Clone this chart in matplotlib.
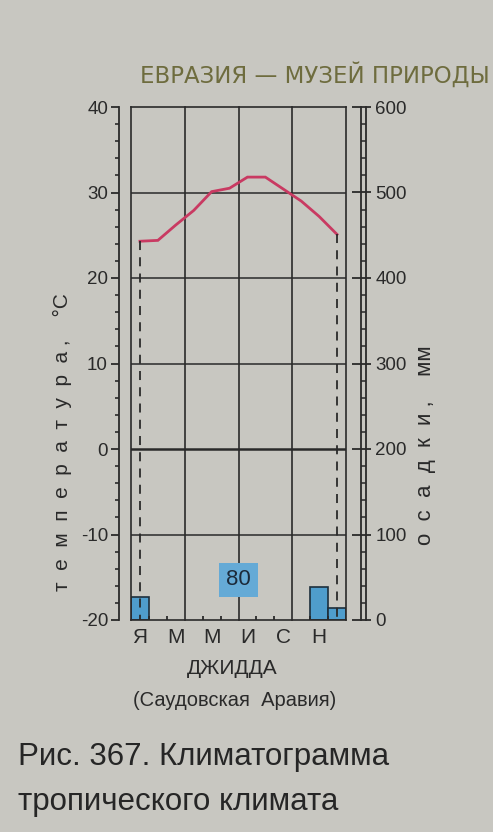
import numpy as np
import matplotlib
matplotlib.use("Agg")
import matplotlib.pyplot as plt
from matplotlib.ticker import MultipleLocator, FixedLocator

# data (Jeddah)
month_pos = np.arange(12) + 0.5
month_label_pos = [0.5, 2.5, 4.5, 6.5, 8.5, 10.5]
month_labels = ["Я", "М", "М", "И", "С", "Н"]
temp = [24.3, 24.4, 26.2, 27.9, 30.1, 30.5, 31.8, 31.8, 30.4, 29.0, 27.2, 25.1]
precip_pos = [0.5, 10.5, 11.5]
precip = [27, 39, 14]
precip_total = 80
temp_ticks = [-20, -10, 0, 10, 20, 30, 40]
precip_ticks = [0, 100, 200, 300, 400, 500, 600]

W, H = 493, 832
paper = "#c8c7c1"
ink = "#2a2a2a"
plt.rcParams["font.family"] = ["Liberation Sans", "DejaVu Sans"]
plt.rcParams["axes.unicode_minus"] = False

fig = plt.figure(figsize=(W / 100, H / 100), dpi=100)
fig.patch.set_facecolor(paper)

def fx(px):
    return px / W

def fy(py):
    return 1 - py / H

PT = 0.72  # points per pixel at dpi 100

left, right, top, bottom = 131, 346, 107, 620
ax = fig.add_axes([fx(left), fy(bottom), fx(right - left), (bottom - top) / H])
ax2 = ax.twinx()
ax3 = ax.twinx()
ax.set_zorder(ax2.get_zorder() + 2)
ax.patch.set_visible(False)

ax.set_xlim(0, 12)
ax.set_ylim(-20, 40)
ax2.set_ylim(0, 600)
ax3.set_ylim(0, 600)

# precipitation bars
ax2.bar(precip_pos, precip, width=1, color="#4f9dcc", edgecolor="#1d2f3c", linewidth=1.2)

# grid
for t in [-10, 10, 20, 30]:
    ax.axhline(t, color=ink, lw=1.1)
ax.axhline(0, color=ink, lw=1.8)
for m in [0, 3, 6, 9]:
    ax.axvline(m, color=ink, lw=1.2, clip_on=False)

# temperature
ax.plot(month_pos, temp, color="#c93a62", lw=2, solid_joinstyle="miter")
for i in [0, 11]:
    ax.plot([month_pos[i], month_pos[i]], [temp[i], -20], color=ink, lw=1.3,
            dashes=(5, 4))

# 80 mm label
ax.text(6, -15.3, str(precip_total), ha="center", va="center", fontsize=16,
        color="#1c2a3a",
        bbox=dict(boxstyle="square,pad=0.3", fc="#65aad6", ec="none"))

# left axis
for s in ["top", "bottom", "right"]:
    ax.spines[s].set_color(ink)
    ax.spines[s].set_linewidth(1.2)
ax.spines["left"].set_position(("outward", 12 * PT))
ax.spines["left"].set_color(ink)
ax.spines["left"].set_linewidth(1.3)
ax.yaxis.set_major_locator(FixedLocator(temp_ticks))
ax.yaxis.set_minor_locator(MultipleLocator(2))
ax.tick_params(axis="y", which="major", length=8 * PT, width=1.3, colors=ink,
               labelsize=13.5, pad=3 * PT)
ax.tick_params(axis="y", which="minor", length=4.5 * PT, width=1.2, colors=ink)

# bottom month ticks
ax.set_xticks(month_label_pos)
ax.set_xticklabels(month_labels)
ax.set_xticks([1, 2, 4, 5, 7, 8, 10, 11], minor=True)
ax.tick_params(axis="x", which="major", length=0, labelsize=15, pad=6,
               colors=ink)
ax.tick_params(axis="x", which="minor", direction="in", length=4 * PT,
               width=1.3, colors=ink)

# right ladder axis
for a in (ax2, ax3):
    for s in ["top", "bottom", "left"]:
        a.spines[s].set_visible(False)
ax2.spines["right"].set_position(("outward", 15 * PT))
ax2.spines["right"].set_linewidth(1.3)
ax2.spines["right"].set_color(ink)
ax3.spines["right"].set_position(("outward", 19.5 * PT))
ax3.spines["right"].set_linewidth(1.3)
ax3.spines["right"].set_color(ink)
ax3.set_yticks([])
ax2.yaxis.set_major_locator(FixedLocator(precip_ticks))
ax2.yaxis.set_minor_locator(MultipleLocator(20))
ax2.tick_params(axis="y", which="major", direction="inout", length=19 * PT,
                width=1.3, colors=ink, labelsize=13.5, pad=5 * PT)
ax2.tick_params(axis="y", which="minor", direction="out", length=4.5 * PT,
                width=1.1, colors=ink)

# axis titles
fig.text(fx(62), fy(442), "т  е  м  п  е  р  а  т  у  р  а ,    °С", rotation=90,
         ha="center", va="center", fontsize=15, color=ink)
fig.text(fx(425), fy(445), "о  с  а  д  к  и ,    мм", rotation=90,
         ha="center", va="center", fontsize=16, color=ink)

# headings and captions
fig.text(fx(140), fy(75), "ЕВРАЗИЯ — МУЗЕЙ ПРИРОДЫ", ha="left", va="center",
         fontsize=16.5, color="#6e6c3e", family=["DejaVu Sans"])
fig.text(fx(232), fy(668), "ДЖИДДА", ha="center", va="center", fontsize=15,
         color=ink)
fig.text(fx(235), fy(700), "(Саудовская  Аравия)", ha="center", va="center",
         fontsize=14.5, color=ink)
fig.text(fx(18), fy(765), "Рис. 367. Климатограмма", ha="left", va="baseline",
         fontsize=22.5, color="#262626")
fig.text(fx(18), fy(810), "тропического климата", ha="left", va="baseline",
         fontsize=22.5, color="#262626")

fig.savefig("out.png", dpi=100, facecolor=paper)
